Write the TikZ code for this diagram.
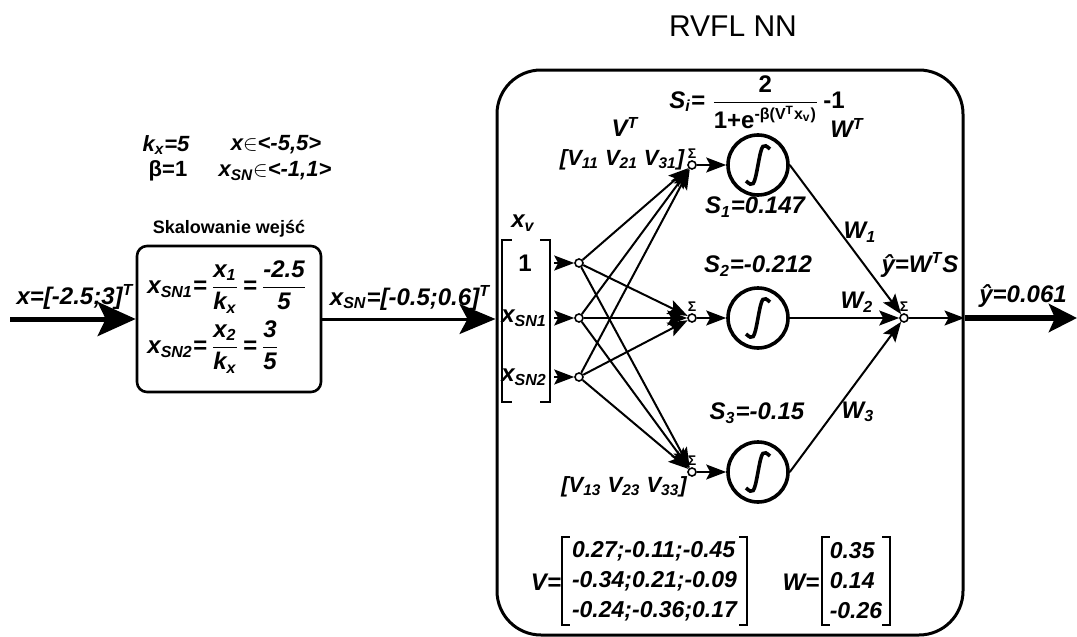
\documentclass[tikz,border=0pt]{standalone}
\usepackage{amsmath}
\usepackage{fontspec}
\setmainfont{Liberation Sans}
\usetikzlibrary{arrows.meta, positioning, fit}

\newcommand{\brackets}[2][4pt]{%
  \draw[brk] ([xshift=#1]#2.north west) -- (#2.north west) -- (#2.south west) -- ([xshift=#1]#2.south west);
  \draw[brk] ([xshift=-#1]#2.north east) -- (#2.north east) -- (#2.south east) -- ([xshift=-#1]#2.south east);}

\begin{document}
\begin{tikzpicture}[x=0.5pt, y=-0.5pt, font=\fontsize{12}{14}\selectfont,
  lab/.style={font=\fontsize{12}{14}\selectfont\bfseries\itshape, inner sep=1pt},
  slab/.style={font=\fontsize{11}{13}\selectfont\bfseries\itshape, inner sep=0.5pt},
  mat/.style={font=\fontsize{11.5}{15}\selectfont\bfseries\itshape, align=left, inner sep=1pt},
  frame/.style={draw, line width=1.5pt, rounded corners=22pt},
  scbox/.style={draw, line width=1.3pt, rounded corners=5pt},
  dot/.style={draw, circle, line width=0.8pt, fill=white, inner sep=0pt, minimum size=4pt},
  sig/.style={draw, circle, line width=1.8pt, minimum size=30pt, inner sep=0pt},
  sumlab/.style={font=\fontsize{7}{8}\selectfont\bfseries, inner sep=0.5pt},
  brk/.style={line width=1pt},
  arr/.style={-{Stealth[length=10pt, width=7.5pt, inset=2pt]}, line width=1pt},
  midarr/.style={-{Stealth[length=18pt, width=15pt, inset=4pt]}, line width=1.5pt},
  bigarr/.style={-{Stealth[length=19pt, width=17pt, inset=4pt]}, line width=2.5pt}]
\useasboundingbox (0,0) rectangle (1077,637);
% Scaling
\node[slab] (kx) at (166,145) {k\textsubscript{x}=5};
\node[slab] (xrange) at (276,145) {x$\in$<-5,5>};
\node[slab, font=\fontsize{11}{13}\selectfont\bfseries] (beta) at (168,171) {β=1};
\node[slab] (xsnrange) at (275,171) {x\textsubscript{SN}$\in$<-1,1>};
\node[scbox, minimum width=92pt, minimum height=73pt] (scale) at (229,319) {};
\node[font=\fontsize{9}{10}\selectfont\bfseries, above=0pt of scale] (scaletitle) {Skalowanie wejść};
\node[lab, anchor=west, inner sep=0pt] (xsn1) at (147,287)
  {x\textsubscript{SN1}=\,$\dfrac{\text{x\textsubscript{1}}}{\text{k\textsubscript{x}}}$\,=\,$\dfrac{\text{-2.5}}{\text{5}}$};
\node[lab, anchor=west, inner sep=0pt] (xsn2) at (147,347)
  {x\textsubscript{SN2}=\,$\dfrac{\text{x\textsubscript{2}}}{\text{k\textsubscript{x}}}$\,=\,$\dfrac{\text{3}}{\text{5}}$};
\coordinate (xin) at (10,319);
\node[lab] (xlab) at (75,297) {x=[-2.5;3]\textsuperscript{T}};
\draw[bigarr] (xin) -- (scale.west |- xin);
% RVFL NN
\node[font=\fontsize{15}{17}\selectfont] (title) at (733,26) {RVFL NN};
\node[frame, minimum width=233pt, minimum height=282.5pt] (rvfl) at (730,352.5) {};
\node[lab] (xsnlab) at (410,298) {x\textsubscript{SN}=[-0.5;0.6]\textsuperscript{T}};
\draw[midarr] (scale.east |- xin) -- (rvfl.west |- xin);
% input vector
\node[lab] (xv) at (523,223) {x\textsubscript{v}};
\node[minimum width=24pt, minimum height=81pt] (xvm) at (526,321) {};
\brackets[5pt]{xvm}
\node[lab, font=\fontsize{12}{14}\selectfont\bfseries] (e1) at (525,263) {1};
\node[lab] (e2) at (524,318) {x\textsubscript{SN1}};
\node[lab] (e3) at (524,377) {x\textsubscript{SN2}};
\foreach \i/\y in {1/263,2/318,3/377} {
  \node[dot] (in\i) at (579,\y) {};
  \draw[arr] ([xshift=2pt]xvm.east |- in\i) -- (in\i);
}
% hidden layer
\foreach \j/\y in {1/165,2/318,3/472} {
  \node[dot, label={[sumlab]above:Σ}] (sum\j) at (692,\y) {};
  \node[sig] (sg\j) at (758,\y) {};
  \draw[line width=1.8pt] ([shift={(-12,16)}]sg\j.center) .. controls +(7,6) and +(-4,22) .. (sg\j.center)
    .. controls +(4,-22) and +(-7,-6) .. ([shift={(12,-16)}]sg\j.center);
  \draw[arr] (sum\j) -- (sg\j);
}
\foreach \i in {1,2,3} \foreach \j in {1,2,3} \draw[arr] (in\i) -- (sum\j);
\node[lab] (vt) at (625,127) {V\textsuperscript{T}};
\node[slab] (vrow1) at (622,160) {[V\textsubscript{11} V\textsubscript{21} V\textsubscript{31}]};
\node[slab] (vrow3) at (624,487) {[V\textsubscript{13} V\textsubscript{23} V\textsubscript{33}]};
\node[lab] (sform) at (757,102) {S\textsubscript{i}= $\dfrac{\text{\upshape 2}}{\text{\upshape 1+e\textsuperscript{-β(V\textsuperscript{T}x\textsubscript{v})}}}$\,{\upshape -1}};
\node[lab] (s1) at (755,207) {S\textsubscript{1}=0.147};
\node[lab] (s2) at (758,266) {S\textsubscript{2}=-0.212};
\node[lab] (s3) at (757,413) {S\textsubscript{3}=-0.15};
% output layer
\node[dot, label={[sumlab]above:Σ}] (osum) at (904,318) {};
\foreach \j in {1,2,3} \draw[arr] (sg\j.east) -- (osum);
\node[lab] (wt) at (847,128) {W\textsuperscript{T}};
\node[lab] (w1) at (860,232) {W\textsubscript{1}};
\node[lab] (w2) at (857,302) {W\textsubscript{2}};
\node[lab] (w3) at (858,412) {W\textsubscript{3}};
\node[lab] (yhat) at (920,265) {ŷ=W\textsuperscript{T}S};
\draw[arr] (osum) -- (rvfl.east |- osum);
\coordinate (yout) at (1077,318);
\draw[-{Stealth[length=14pt, width=14pt, inset=3pt]}, line width=3pt] (rvfl.east |- osum) -- (yout);
\node[lab] (ylab) at (1023,296) {ŷ=0.061};
% weights
\node[lab] (veq) at (546,582) {V=};
\node[mat, minimum width=92.5pt, minimum height=44pt] (vm) at (654.5,581) {0.27;-0.11;-0.45\\-0.34;0.21;-0.09\\-0.24;-0.36;0.17};
\brackets{vm}
\node[lab] (weq) at (801,582) {W=};
\node[mat, minimum width=34pt, minimum height=44pt] (wm) at (856,581) {0.35\\0.14\\-0.26};
\brackets{wm}
\end{tikzpicture}
\end{document}
